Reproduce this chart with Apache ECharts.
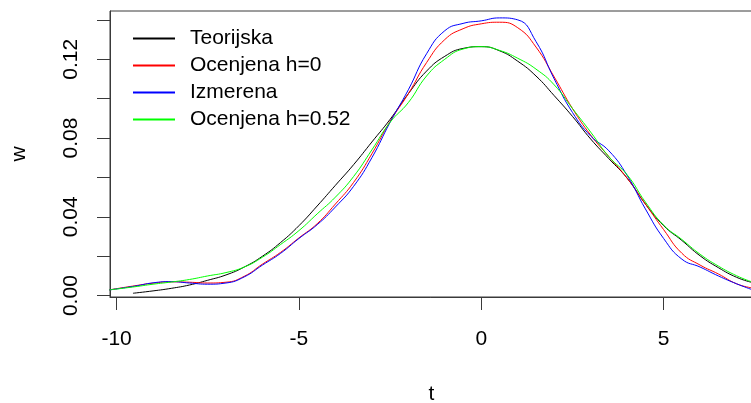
<!DOCTYPE html>
<html>
<head>
<meta charset="utf-8">
<script src="https://cdn.jsdelivr.net/npm/echarts@6/dist/echarts.min.js"></script>
<style>html,body{margin:0;padding:0;background:#fff}#c{width:751px;height:403px}</style>
</head>
<body>
<div id="c"></div>
<script>
// t values for estimated / measured curves
var tGrid = [-10.2,-9.5,-9,-8.5,-8,-7.5,-7,-6.5,-6,-5.5,-5,-4.5,-4,-3.5,-3,-2.5,-2,-1.5,-1,-0.5,0,0.5,1,1.5,2,2.5,3,3.5,4,4.5,5,5.5,6,6.5,7,7.4];
// t values for theoretical curve
var tTheo = [-9.55,-9,-8.5,-8,-7.5,-7,-6.5,-6,-5.5,-5,-4.5,-4,-3.5,-3,-2.5,-2,-1.5,-1,-0.5,0,0.5,1,1.5,2,2.5,3,3.5,4,4.5,5,5.5,6,6.5,7,7.4];

var teorijska = [0.0012,0.0024,0.0037,0.0054,0.0078,0.0105,0.0145,0.0200,0.0270,0.0355,0.0455,0.0560,0.0665,0.0780,0.0895,0.1025,0.1140,0.1215,0.1255,0.1264,0.1243,0.1190,0.1115,0.1015,0.0910,0.0795,0.0695,0.0596,0.0465,0.0355,0.0280,0.0202,0.0142,0.0093,0.0068];
var ocenjena0 = [0.0029,0.0050,0.0063,0.0070,0.0068,0.0064,0.0068,0.0098,0.0160,0.0220,0.0293,0.0365,0.0465,0.0575,0.0720,0.0885,0.1025,0.1183,0.1300,0.1355,0.1380,0.1388,0.1360,0.1262,0.1110,0.0950,0.0815,0.0705,0.0596,0.0465,0.0335,0.0215,0.0155,0.0110,0.0060,0.0040];
var izmerena = [0.0029,0.0048,0.0065,0.0071,0.0064,0.0058,0.0064,0.0095,0.0155,0.0215,0.0290,0.0360,0.0450,0.0555,0.0700,0.0880,0.1045,0.1228,0.1345,0.1382,0.1395,0.1410,0.1400,0.1290,0.1100,0.0930,0.0810,0.0735,0.0610,0.0440,0.0290,0.0185,0.0145,0.0100,0.0060,0.0032];
var ocenjena052 = [0.0029,0.0045,0.0058,0.0069,0.0082,0.0100,0.0117,0.0145,0.0195,0.0260,0.0330,0.0415,0.0500,0.0605,0.0740,0.0880,0.0980,0.1115,0.1200,0.1252,0.1264,0.1245,0.1205,0.1150,0.1070,0.0950,0.0830,0.0705,0.0613,0.0475,0.0358,0.0285,0.0210,0.0150,0.0101,0.0071];

var xTicks = [-10,-5,0,5];
var yTicks = [0,0.02,0.04,0.06,0.08,0.10,0.12,0.14];
var yLabels = [0,0.04,0.08,0.12];

function pairs(xs, ys){ return xs.map(function(x,i){ return [x, ys[i]]; }); }

var FONT = "'Liberation Sans', Arial, sans-serif";
var chart = echarts.init(document.getElementById('c'));
chart.setOption({
  animation: false,
  backgroundColor: '#fff',
  grid: { left: 110, top: 11, right: -2, bottom: 106, outerBoundsMode: 'none', containLabel: false, show: true, borderColor: '#3a3a3a', borderWidth: 1, backgroundColor: 'transparent' },
  legend: {
    orient: 'vertical', left: 128, top: 20, itemWidth: 42, itemHeight: 2, itemGap: 0, icon: 'rect',
    textStyle: { fontFamily: FONT, fontSize: 21, color: '#000', lineHeight: 27, padding: [0,0,0,10] },
    data: ['Teorijska','Ocenjena h=0','Izmerena','Ocenjena h=0.52']
  },
  xAxis: {
    type: 'value', min: -10.18, max: 7.45,
    name: 't', nameLocation: 'middle', nameGap: 87,
    nameTextStyle: { fontFamily: FONT, fontSize: 21, color: '#000' },
    axisLine: { show: true, onZero: false, lineStyle: { color: '#3a3a3a', width: 1 } },
    axisTick: { show: true, length: 13, customValues: xTicks, lineStyle: { color: '#3a3a3a' } },
    axisLabel: { customValues: xTicks, margin: 32, fontFamily: FONT, fontSize: 21, color: '#000' },
    splitLine: { show: false }
  },
  yAxis: {
    type: 'value', min: -0.0007, max: 0.1445,
    name: 'w', nameLocation: 'middle', nameGap: 80, nameRotate: 90,
    nameTextStyle: { fontFamily: FONT, fontSize: 21, color: '#000' },
    axisLine: { show: true, onZero: false, lineStyle: { color: '#3a3a3a', width: 1 } },
    axisTick: { show: true, length: 13, customValues: yTicks, lineStyle: { color: '#3a3a3a' } },
    axisLabel: { customValues: yLabels, rotate: 90, margin: 28, fontFamily: FONT, fontSize: 21, color: '#000',
      formatter: function(v){ return v.toFixed(2); } },
    splitLine: { show: false }
  },
  series: [
    { name: 'Teorijska', type: 'line', data: pairs(tTheo, teorijska), showSymbol: false, smooth: true, lineStyle: { color: '#000', width: 1 }, itemStyle: { color: '#000' } },
    { name: 'Ocenjena h=0', type: 'line', data: pairs(tGrid, ocenjena0), showSymbol: false, smooth: true, lineStyle: { color: '#ff0000', width: 1 }, itemStyle: { color: '#ff0000' } },
    { name: 'Izmerena', type: 'line', data: pairs(tGrid, izmerena), showSymbol: false, smooth: true, lineStyle: { color: '#0000ff', width: 1 }, itemStyle: { color: '#0000ff' } },
    { name: 'Ocenjena h=0.52', type: 'line', data: pairs(tGrid, ocenjena052), showSymbol: false, smooth: true, lineStyle: { color: '#00ff00', width: 1 }, itemStyle: { color: '#00ff00' } }
  ]
});
</script>
</body>
</html>
